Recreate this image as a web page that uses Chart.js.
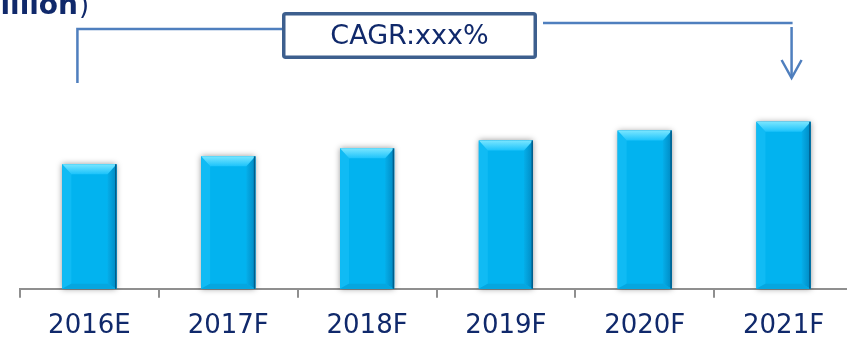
<!DOCTYPE html>
<html>
<head>
<meta charset="utf-8">
<script src="https://cdn.jsdelivr.net/npm/chart.js@4.4.1/dist/chart.umd.min.js"></script>
<style>
  html, body { margin: 0; padding: 0; background: #ffffff; overflow: hidden; }
  #wrap { position: relative; width: 847px; height: 347px; overflow: hidden; }
</style>
</head>
<body>
<div id="wrap"><canvas id="c" width="853" height="360"></canvas></div>
<script>
// Market size by year (estimate and forecasts)
const categories = ['2016E', '2017F', '2018F', '2019F', '2020F', '2021F'];
const marketSize = [126, 134, 142, 150, 160, 169];
const unitLabel = '(US$ million';
const cagrLabel = 'CAGR:xxx%';

const NAVY = '#10296b';
const LINE_BLUE = '#4f7fbe';

// Gives each column a soft drop shadow and bevelled edges
const bevelBars = {
  id: 'bevelBars',
  beforeDatasetsDraw(chart) {
    const ctx = chart.ctx;
    chart.getDatasetMeta(0).data.forEach(bar => {
      const l = bar.x - bar.width / 2, r = bar.x + bar.width / 2;
      ctx.save();
      ctx.shadowColor = 'rgba(0,0,0,0.4)';
      ctx.shadowBlur = 6;
      ctx.fillStyle = '#02b3ef';
      ctx.fillRect(l, bar.y, r - l, bar.base - bar.y);
      ctx.restore();
    });
  },
  afterDatasetsDraw(chart) {
    const ctx = chart.ctx;
    chart.getDatasetMeta(0).data.forEach(bar => {
      const l = bar.x - bar.width / 2, r = bar.x + bar.width / 2;
      const t = bar.y, b = bar.base;
      const bt = 10, bs = 9, bb = 5;
      ctx.save();
      // left face
      ctx.fillStyle = '#10bbf4';
      ctx.beginPath();
      ctx.moveTo(l, t); ctx.lineTo(l + bs, t + bt); ctx.lineTo(l + bs, b - bb); ctx.lineTo(l, b);
      ctx.closePath(); ctx.fill();
      // right face
      const gr = ctx.createLinearGradient(r - bs, 0, r, 0);
      gr.addColorStop(0, '#05aee9');
      gr.addColorStop(1, '#0089c2');
      ctx.fillStyle = gr;
      ctx.beginPath();
      ctx.moveTo(r, t); ctx.lineTo(r - bs, t + bt); ctx.lineTo(r - bs, b - bb); ctx.lineTo(r, b);
      ctx.closePath(); ctx.fill();
      // bottom face
      ctx.fillStyle = '#06a6df';
      ctx.beginPath();
      ctx.moveTo(l, b); ctx.lineTo(l + bs, b - bb); ctx.lineTo(r - bs, b - bb); ctx.lineTo(r, b);
      ctx.closePath(); ctx.fill();
      // top face
      const gt = ctx.createLinearGradient(0, t, 0, t + bt);
      gt.addColorStop(0, '#7ae6ff');
      gt.addColorStop(1, '#1cc3fb');
      ctx.fillStyle = gt;
      ctx.beginPath();
      ctx.moveTo(l, t); ctx.lineTo(r, t); ctx.lineTo(r - bs, t + bt); ctx.lineTo(l + bs, t + bt);
      ctx.closePath(); ctx.fill();
      // dark right edge
      ctx.strokeStyle = '#005e8c';
      ctx.lineWidth = 1.5;
      ctx.beginPath();
      ctx.moveTo(r - 0.75, t); ctx.lineTo(r - 0.75, b);
      ctx.stroke();
      ctx.restore();
    });
  }
};

// Unit caption, CAGR bracket, label box and arrow
const annotations = {
  id: 'annotations',
  afterDraw(chart) {
    const ctx = chart.ctx;
    const x = chart.scales.x;
    const leftX = x.getPixelForValue(0) - 12;
    const arrowX = x.getPixelForValue(5) + 8;
    const box = { l: 282, r: 537, t: 12, b: 59 };

    ctx.save();
    // unit caption
    ctx.fillStyle = NAVY;
    ctx.textBaseline = 'alphabetic';
    ctx.textAlign = 'right';
    ctx.font = 'bold 28px "DejaVu Sans", Verdana, sans-serif';
    ctx.fillText(unitLabel, 78, 14);
    ctx.textAlign = 'left';
    ctx.font = '26px "DejaVu Sans", Verdana, sans-serif';
    ctx.fillText(')', 79, 14);

    // bracket lines
    ctx.strokeStyle = LINE_BLUE;
    ctx.lineWidth = 2.5;
    ctx.lineCap = 'butt';
    ctx.beginPath();
    ctx.moveTo(leftX, 83); ctx.lineTo(leftX, 29); ctx.lineTo(box.l, 29);
    ctx.stroke();
    ctx.beginPath();
    ctx.moveTo(box.r + 6, 23); ctx.lineTo(arrowX + 1, 23);
    ctx.stroke();
    ctx.beginPath();
    ctx.moveTo(arrowX, 27); ctx.lineTo(arrowX, 78);
    ctx.stroke();
    ctx.lineJoin = 'miter';
    ctx.beginPath();
    ctx.moveTo(arrowX - 10, 60); ctx.lineTo(arrowX, 78); ctx.lineTo(arrowX + 10, 60);
    ctx.stroke();

    // CAGR box
    ctx.fillStyle = '#ffffff';
    ctx.strokeStyle = '#3d5f8e';
    ctx.lineWidth = 3.5;
    ctx.beginPath();
    ctx.roundRect(box.l + 1.75, box.t + 1.75, box.r - box.l - 3.5, box.b - box.t - 3.5, 2);
    ctx.fill();
    ctx.stroke();
    ctx.fillStyle = NAVY;
    ctx.textAlign = 'center';
    ctx.textBaseline = 'middle';
    ctx.font = '27px "DejaVu Sans", Verdana, sans-serif';
    ctx.fillText(cagrLabel, (box.l + box.r) / 2, 37);
    ctx.restore();
  }
};

new Chart(document.getElementById('c'), {
  type: 'bar',
  data: {
    labels: categories,
    datasets: [{
      data: marketSize,
      backgroundColor: '#02b3ef',
      borderWidth: 0,
      categoryPercentage: 1,
      barPercentage: 0.39
    }]
  },
  options: {
    responsive: false,
    animation: false,
    devicePixelRatio: 1,
    layout: { padding: { left: 20, right: 0, top: 91, bottom: 5 } },
    plugins: { legend: { display: false }, tooltip: { enabled: false } },
    scales: {
      y: { display: false, min: 0, max: 200 },
      x: {
        offset: true,
        border: { display: true, color: '#8f8f8f', width: 2 },
        grid: { display: true, offset: true, drawOnChartArea: false, drawTicks: true, tickLength: 9, color: '#8f8f8f', lineWidth: 2 },
        ticks: {
          color: NAVY,
          padding: 13,
          maxRotation: 0,
          font: { family: '"DejaVu Sans", Verdana, sans-serif', size: 26 }
        }
      }
    }
  },
  plugins: [bevelBars, annotations]
});
</script>
</body>
</html>
